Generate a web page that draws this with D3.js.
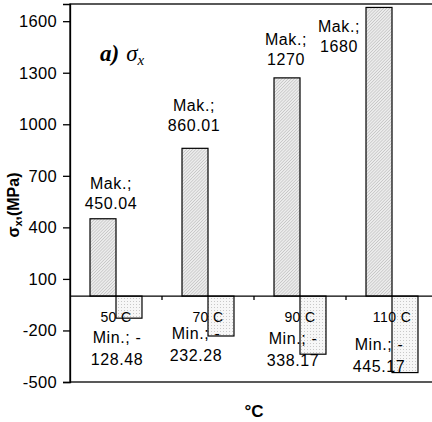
<!DOCTYPE html>
<html>
<head>
  <meta charset="utf-8">
  <title>Sigma x</title>
  <script src="https://d3js.org/d3.v7.min.js"></script>
  <style>
    body { margin: 0; background: #fff; }
    text { font-family: "Liberation Sans", Arial, sans-serif; fill: #000; }
    .tick text { font-size: 16.5px; letter-spacing: 0.3px; }
    .lbl { font-size: 16px; letter-spacing: 0.6px; }
    .cat { font-size: 14px; letter-spacing: 0.4px; }
  </style>
</head>
<body>
  <svg id="chart"></svg>

  <script>
    // Data
    const categories = ["50 C", "70 C", "90 C", "110 C"];
    const maxValues = [450.04, 860.01, 1270, 1680];
    const minValues = [-128.48, -232.28, -338.17, -445.17];
    const maxLabels = ["450.04", "860.01", "1270", "1680"];
    const minLabels = ["128.48", "232.28", "338.17", "445.17"];
    const yTicks = [-500, -200, 100, 400, 700, 1000, 1300, 1600];

    // label nudges (dx from bar centre, dy of first line from bar end)
    const maxLabelNudge = [[8, -30], [-1, -37], [-1, -33], [-40, 25]];
    const minLabelNudge = [[1, 47], [-12, 43], [-7, 48], [-13, 54]];

    const width = 432;
    const height = 422;
    const margin = { top: 4, right: -6, bottom: 40, left: 70 };
    const chartWidth = width - margin.left - margin.right;
    const chartHeight = height - margin.top - margin.bottom;

    const svg = d3.select("#chart")
                  .attr("width", width)
                  .attr("height", height);

    const defs = svg.append("defs");

    const hatch = defs.append("pattern")
      .attr("id", "hatchMax")
      .attr("patternUnits", "userSpaceOnUse")
      .attr("width", 2.2).attr("height", 2.2)
      .attr("patternTransform", "rotate(45)");
    hatch.append("rect").attr("width", 2.2).attr("height", 2.2).attr("fill", "#ececec");
    hatch.append("line").attr("x1", 0).attr("y1", 0).attr("x2", 0).attr("y2", 2.2)
      .attr("stroke", "#b4b4b4").attr("stroke-width", 1);

    const dots = defs.append("pattern")
      .attr("id", "dotsMin")
      .attr("patternUnits", "userSpaceOnUse")
      .attr("width", 3).attr("height", 3);
    dots.append("rect").attr("width", 3).attr("height", 3).attr("fill", "#f7f7f7");
    dots.append("rect").attr("width", 1).attr("height", 1).attr("fill", "#c8c8c8");

    const chart = svg.append("g")
      .attr("transform", `translate(${margin.left},${margin.top})`);

    // Scales
    const xScale = d3.scaleBand()
      .domain(categories)
      .range([0, chartWidth])
      .padding(0);

    const xInner = d3.scaleBand()
      .domain(["max", "min"])
      .range([0, xScale.bandwidth()])
      .paddingInner(0)
      .paddingOuter(0.77);

    const yScale = d3.scaleLinear()
      .domain([-500, 1700])
      .range([chartHeight, 0]);

    // Plot border
    chart.append("rect")
      .attr("x", 0).attr("y", 0)
      .attr("width", chartWidth).attr("height", chartHeight)
      .attr("fill", "none")
      .attr("stroke", "#000")
      .attr("stroke-width", 1.3);

    // Y axis
    const yAxis = d3.axisLeft(yScale)
      .tickValues(yTicks)
      .tickSize(7)
      .tickPadding(6)
      .tickFormat(d => String(d));
    chart.append("g")
      .attr("class", "y-axis")
      .call(yAxis)
      .call(g => g.select(".domain").attr("stroke-width", 1.3))
      .call(g => g.selectAll(".tick line").attr("stroke-width", 1.3));

    // Bars
    const rows = categories.map((c, i) => ({ cat: c, max: maxValues[i], min: minValues[i], i }));

    chart.selectAll(".bar-max")
      .data(rows)
      .enter()
      .append("rect")
      .attr("class", "bar-max")
      .attr("x", d => xScale(d.cat) + xInner("max"))
      .attr("y", d => yScale(d.max))
      .attr("width", xInner.bandwidth())
      .attr("height", d => yScale(0) - yScale(d.max))
      .attr("fill", "url(#hatchMax)")
      .attr("stroke", "#000")
      .attr("stroke-width", 1.2);

    chart.selectAll(".bar-min")
      .data(rows)
      .enter()
      .append("rect")
      .attr("class", "bar-min")
      .attr("x", d => xScale(d.cat) + xInner("min"))
      .attr("y", yScale(0))
      .attr("width", xInner.bandwidth())
      .attr("height", d => yScale(d.min) - yScale(0))
      .attr("fill", "url(#dotsMin)")
      .attr("stroke", "#000")
      .attr("stroke-width", 1.2);

    // Zero line with category ticks
    chart.append("line")
      .attr("x1", 0).attr("x2", chartWidth)
      .attr("y1", yScale(0)).attr("y2", yScale(0))
      .attr("stroke", "#000")
      .attr("stroke-width", 1.3);

    chart.selectAll(".cat-tick")
      .data(categories.slice(1))
      .enter()
      .append("line")
      .attr("x1", d => xScale(d)).attr("x2", d => xScale(d))
      .attr("y1", yScale(0)).attr("y2", yScale(0) + 4)
      .attr("stroke", "#000")
      .attr("stroke-width", 1.3);

    chart.selectAll(".cat")
      .data(categories)
      .enter()
      .append("text")
      .attr("class", "cat")
      .attr("x", d => xScale(d) + xScale.bandwidth() / 2)
      .attr("y", yScale(0) + 26)
      .attr("text-anchor", "middle")
      .text(d => d);

    // Data labels
    const maxLbl = chart.selectAll(".lbl-max")
      .data(rows)
      .enter()
      .append("text")
      .attr("class", "lbl")
      .attr("text-anchor", "middle")
      .attr("transform", d => {
        const n = maxLabelNudge[d.i];
        const x = xScale(d.cat) + xInner("max") + xInner.bandwidth() / 2 + n[0];
        return `translate(${x},${yScale(d.max) + n[1]})`;
      });
    maxLbl.append("tspan").attr("x", 0).attr("y", 0).text("Mak.;");
    maxLbl.append("tspan").attr("x", 0).attr("y", 20).text(d => maxLabels[d.i]);

    const minLbl = chart.selectAll(".lbl-min")
      .data(rows)
      .enter()
      .append("text")
      .attr("class", "lbl")
      .attr("text-anchor", "middle")
      .attr("transform", d => {
        const n = minLabelNudge[d.i];
        const x = xScale(d.cat) + xInner("max") + xInner.bandwidth() + n[0];
        return `translate(${x},${yScale(0) + n[1]})`;
      });
    minLbl.append("tspan").attr("x", 0).attr("y", 0).text("Min.; -");
    minLbl.append("tspan").attr("x", 0).attr("y", 22).text(d => minLabels[d.i]);

    // Panel title
    const title = chart.append("text")
      .attr("x", 30)
      .attr("y", 57)
      .style("font-family", "'Liberation Serif', 'Times New Roman', serif")
      .style("font-size", "23px");
    title.append("tspan").attr("font-weight", "bold").attr("font-style", "italic").text("a)");
    title.append("tspan").attr("font-style", "italic").attr("dx", 7).text("σ");
    title.append("tspan").attr("font-style", "italic").attr("font-size", "15px").attr("dy", 4).text("x");

    // Axis titles
    const yTitle = svg.append("text")
      .attr("transform", `translate(19,${margin.top + yScale(530)}) rotate(-90)`)
      .attr("text-anchor", "middle")
      .style("font-size", "16px")
      .style("font-weight", "bold");
    yTitle.append("tspan").text("σ");
    yTitle.append("tspan").attr("font-size", "11px").attr("dy", 3).text("x");
    yTitle.append("tspan").attr("dy", -3).text(",(MPa)");

    svg.append("text")
      .attr("x", margin.left + 184)
      .attr("y", 417)
      .attr("text-anchor", "middle")
      .style("font-size", "17px")
      .style("font-weight", "bold")
      .text("°C");
  </script>
</body>
</html>
